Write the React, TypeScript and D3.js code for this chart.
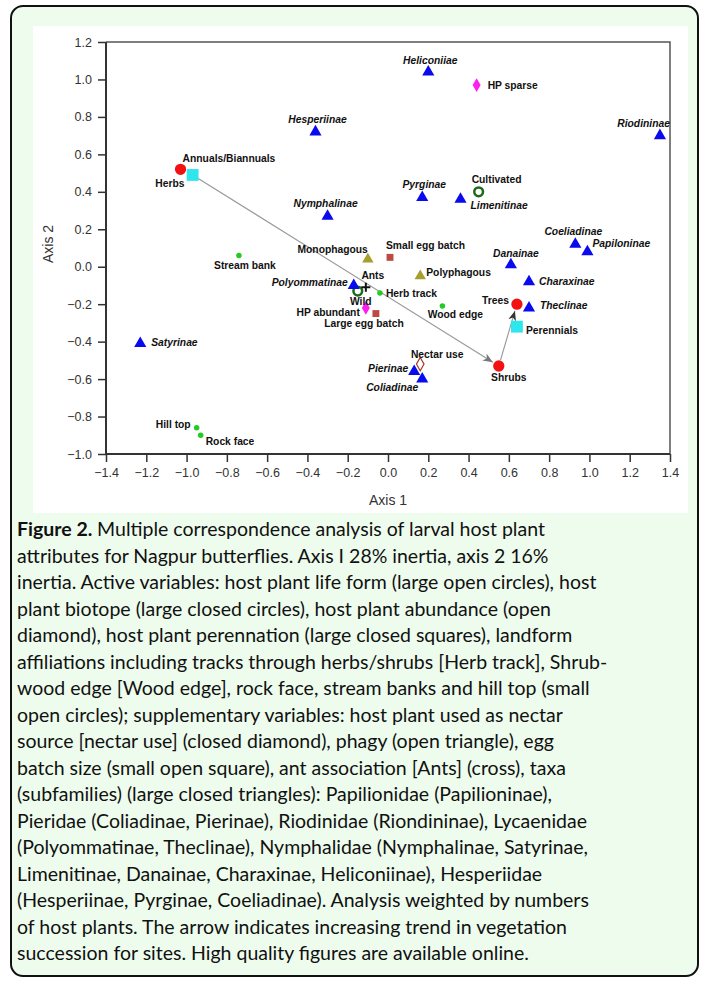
import { useRef, useEffect } from "react";
import * as d3 from "d3";

type Pt = { name: string; x: number; y: number };

const xTicks = [-1.4, -1.2, -1.0, -0.8, -0.6, -0.4, -0.2, 0.0, 0.2, 0.4, 0.6, 0.8, 1.0, 1.2, 1.4];
const yTicks = [-1.0, -0.8, -0.6, -0.4, -0.2, 0.0, 0.2, 0.4, 0.6, 0.8, 1.0, 1.2];

// taxa (subfamilies) - large closed triangles
const taxa: Pt[] = [
  { name: "Hesperiinae", x: -0.36, y: 0.72 },
  { name: "Heliconiiae", x: 0.2, y: 1.04 },
  { name: "Riodininae", x: 1.35, y: 0.7 },
  { name: "Nymphalinae", x: -0.3, y: 0.27 },
  { name: "Pyrginae", x: 0.17, y: 0.37 },
  { name: "Limenitinae", x: 0.36, y: 0.36 },
  { name: "Coeliadinae", x: 0.93, y: 0.12 },
  { name: "Papiloninae", x: 0.99, y: 0.08 },
  { name: "Danainae", x: 0.61, y: 0.01 },
  { name: "Charaxinae", x: 0.7, y: -0.08 },
  { name: "Polyommatinae", x: -0.17, y: -0.1 },
  { name: "Theclinae", x: 0.7, y: -0.22 },
  { name: "Pierinae", x: 0.13, y: -0.56 },
  { name: "Coliadinae", x: 0.17, y: -0.6 },
  { name: "Satyrinae", x: -1.23, y: -0.41 },
];

// host plant life form - red circles
const lifeForm: Pt[] = [
  { name: "Herbs", x: -1.03, y: 0.52 },
  { name: "Shrubs", x: 0.55, y: -0.53 },
  { name: "Trees", x: 0.64, y: -0.2 },
];

// perennation - cyan squares
const perennation: Pt[] = [
  { name: "Annuals/Biannuals", x: -0.97, y: 0.49 },
  { name: "Perennials", x: 0.64, y: -0.32 },
];

// biotope - open dark green circles
const biotope: Pt[] = [
  { name: "Cultivated", x: 0.45, y: 0.4 },
  { name: "Wild", x: -0.15, y: -0.13 },
];

// abundance - magenta diamonds
const abundance: Pt[] = [
  { name: "HP sparse", x: 0.44, y: 0.97 },
  { name: "HP abundant", x: -0.11, y: -0.22 },
];

// landform - small green dots
const landform: Pt[] = [
  { name: "Stream bank", x: -0.74, y: 0.06 },
  { name: "Herb track", x: -0.04, y: -0.14 },
  { name: "Wood edge", x: 0.27, y: -0.21 },
  { name: "Hill top", x: -0.95, y: -0.86 },
  { name: "Rock face", x: -0.93, y: -0.9 },
];

const phagy: Pt[] = [
  { name: "Monophagous", x: -0.1, y: 0.04 },
  { name: "Polyphagous", x: 0.16, y: -0.05 },
];

const eggBatch: Pt[] = [
  { name: "Small egg batch", x: 0.01, y: 0.05 },
  { name: "Large egg batch", x: -0.06, y: -0.25 },
];

const nectar: Pt[] = [{ name: "Nectar use", x: 0.16, y: -0.52 }];
const ants: Pt[] = [{ name: "Ants", x: -0.11, y: -0.11 }];

// vegetation succession arrow
const succession = ["Annuals/Biannuals", "Shrubs", "Trees"];

// label placement: [dx, dy, anchor] in px relative to the marker
const labelPos: Record<string, [number, number, string]> = {
  Hesperiinae: [2, -13, "middle"],
  Heliconiiae: [2, -12, "middle"],
  Riodininae: [10, -12, "end"],
  Nymphalinae: [-2, -13, "middle"],
  Pyrginae: [2, -13, "middle"],
  Limenitinae: [10, 6, "start"],
  Coeliadinae: [-2, -13, "middle"],
  Papiloninae: [5, -8, "start"],
  Danainae: [5, -12, "middle"],
  Charaxinae: [10, 0, "start"],
  Polyommatinae: [-6, -3, "end"],
  Theclinae: [11, -3, "start"],
  Pierinae: [-6, -3, "end"],
  Coliadinae: [-4, 8, "end"],
  Satyrinae: [11, -1, "start"],
  Herbs: [4, 14, "end"],
  Shrubs: [10, 11, "middle"],
  Trees: [-8, -4, "end"],
  "Annuals/Biannuals": [-10, -17, "start"],
  Perennials: [9, 4, "start"],
  Cultivated: [-7, -13, "start"],
  Wild: [3, 10, "middle"],
  "HP sparse": [11, 0, "start"],
  "HP abundant": [-6, 4, "end"],
  "Stream bank": [6, 10, "middle"],
  "Herb track": [6, 0, "start"],
  "Wood edge": [13, 8, "middle"],
  "Hill top": [-6, -3, "end"],
  "Rock face": [5, 6, "start"],
  Monophagous: [0, -10, "end"],
  Polyphagous: [6, -4, "start"],
  "Small egg batch": [-4, -12, "start"],
  "Large egg batch": [-12, 10, "middle"],
  "Nectar use": [17, -10, "middle"],
  Ants: [7, -12, "middle"],
};

const captionLines = [
  "Multiple correspondence analysis of larval host plant",
  "attributes for Nagpur butterflies. Axis I 28% inertia, axis 2 16%",
  "inertia. Active variables: host plant life form (large open circles), host",
  "plant biotope (large closed circles), host plant abundance (open",
  "diamond), host plant perennation (large closed squares), landform",
  "affiliations including tracks through herbs/shrubs [Herb track], Shrub-",
  "wood edge [Wood edge], rock face, stream banks and hill top (small",
  "open circles); supplementary variables: host plant used as nectar",
  "source [nectar use] (closed diamond), phagy (open triangle), egg",
  "batch size (small open square), ant association [Ants] (cross), taxa",
  "(subfamilies) (large closed triangles): Papilionidae (Papilioninae),",
  "Pieridae (Coliadinae, Pierinae), Riodinidae (Riondininae), Lycaenidae",
  "(Polyommatinae, Theclinae), Nymphalidae (Nymphalinae, Satyrinae,",
  "Limenitinae, Danainae, Charaxinae, Heliconiinae), Hesperiidae",
  "(Hesperiinae, Pyrginae, Coeliadinae). Analysis weighted by numbers",
  "of host plants. The arrow indicates increasing trend in vegetation",
  "succession for sites. High quality figures are available online.",
];

const W = 707;
const H = 982;
const FONT = "Arial, 'Liberation Sans', sans-serif";

export default function App() {
  const svgRef = useRef<SVGSVGElement>(null);

  useEffect(() => {
    if (!svgRef.current) return;
    const svg = d3.select(svgRef.current);
    svg.selectAll("*").remove();

    // panel backgrounds
    svg.append("rect")
      .attr("x", 11).attr("y", 6).attr("width", 687).attr("height", 970)
      .attr("rx", 12).attr("fill", "#EEFCEE").attr("stroke", "#111").attr("stroke-width", 2);
    svg.append("rect")
      .attr("x", 33).attr("y", 26).attr("width", 655).attr("height", 487)
      .attr("fill", "#fff");

    const x = d3.scaleLinear().domain([-1.4, 1.4]).range([106, 670]);
    const y = d3.scaleLinear().domain([-1.0, 1.2]).range([454, 42]);

    // frame top/right
    svg.append("path")
      .attr("d", `M${x(-1.4)},${y(1.2)}H${x(1.4)}V${y(-1.0)}`)
      .attr("fill", "none").attr("stroke", "#555").attr("stroke-width", 1.5);

    // axes
    const gx = svg.append("g").attr("transform", `translate(0,${y(-1.0)})`)
      .call(d3.axisBottom(x).tickValues(xTicks).tickSize(8).tickPadding(6).tickFormat(d3.format(".1f")));
    const gy = svg.append("g").attr("transform", `translate(${x(-1.4)},0)`)
      .call(d3.axisLeft(y).tickValues(yTicks).tickSize(8).tickPadding(6).tickFormat(d3.format(".1f")));
    [gx, gy].forEach((g) => {
      g.select(".domain").attr("stroke", "#333").attr("stroke-width", 2);
      g.selectAll(".tick line").attr("stroke", "#333").attr("stroke-width", 1.5);
      g.selectAll("text").style("font-family", FONT).style("font-size", "12.5px").attr("fill", "#333");
    });
    gx.select(".domain").attr("d", `M${x(-1.4)},0H${x(1.4)}`);
    gy.select(".domain").attr("d", `M0,${y(-1.0)}V${y(1.2)}`);

    svg.append("text")
      .attr("x", (x(-1.4) + x(1.4)) / 2).attr("y", 505)
      .attr("text-anchor", "middle").style("font-family", FONT).style("font-size", "14px")
      .attr("fill", "#333").text("Axis 1");
    svg.append("text")
      .attr("transform", `translate(53,${(y(-1.0) + y(1.2)) / 2 - 4}) rotate(-90)`)
      .attr("text-anchor", "middle").style("font-family", FONT).style("font-size", "14px")
      .attr("fill", "#333").text("Axis 2");

    // succession arrows
    const all = [...taxa, ...lifeForm, ...perennation, ...biotope, ...abundance, ...landform, ...phagy, ...eggBatch, ...nectar, ...ants];
    const find = (n: string) => all.find((p) => p.name === n)!;
    const defs = svg.append("defs");
    [["arrGray", "#777"], ["arrDark", "#333"]].forEach(([id, c]) => {
      defs.append("marker").attr("id", id).attr("viewBox", "0 0 10 10")
        .attr("refX", 10).attr("refY", 5).attr("markerWidth", 10).attr("markerHeight", 10)
        .attr("markerUnits", "userSpaceOnUse").attr("orient", "auto")
        .append("path").attr("d", "M0,1L10,5L0,9L3,5Z").attr("fill", c);
    });
    for (let i = 0; i < succession.length - 1; i++) {
      const a = find(succession[i]);
      const b = find(succession[i + 1]);
      const x1 = x(a.x), y1 = y(a.y), x2 = x(b.x), y2 = y(b.y);
      const len = Math.hypot(x2 - x1, y2 - y1);
      const ux = (x2 - x1) / len, uy = (y2 - y1) / len;
      const s0 = i === 0 ? 0 : 6, s1 = 7;
      svg.append("line")
        .attr("x1", x1 + ux * s0).attr("y1", y1 + uy * s0)
        .attr("x2", x2 - ux * s1).attr("y2", y2 - uy * s1)
        .attr("stroke", "#999").attr("stroke-width", 1.1)
        .attr("marker-end", `url(#${i === 0 ? "arrGray" : "arrDark"})`);
    }

    const sym = (type: d3.SymbolType, size: number) => d3.symbol().type(type).size(size)()!;
    const drawSymbols = (pts: Pt[], d: string, fill: string, stroke = "none", sw = 0) => {
      svg.append("g").selectAll("path").data(pts).join("path")
        .attr("transform", (p) => `translate(${x(p.x)},${y(p.y)})`)
        .attr("d", d).attr("fill", fill).attr("stroke", stroke).attr("stroke-width", sw);
    };

    drawSymbols(lifeForm, sym(d3.symbolCircle, 100), "#F21010");
    drawSymbols(perennation, sym(d3.symbolSquare, 140), "#2EE6EE");
    drawSymbols(biotope, sym(d3.symbolCircle, 60), "none", "#1A6A1A", 2.5);
    drawSymbols(abundance, sym(d3.symbolDiamond, 55), "#FF20F0");
    drawSymbols(landform, sym(d3.symbolCircle, 24), "#22CC22");
    drawSymbols(phagy, sym(d3.symbolTriangle, 56), "#A89E2E");
    drawSymbols(eggBatch, sym(d3.symbolSquare, 48), "#BE4A44");
    drawSymbols(nectar, sym(d3.symbolDiamond, 50), "#fff", "#A83A28", 1.2);
    drawSymbols(taxa, sym(d3.symbolTriangle, 64), "#0A0AEE");
    svg.append("g").selectAll("path").data(ants).join("path")
      .attr("transform", (p) => `translate(${x(p.x)},${y(p.y)})`)
      .attr("d", "M-4.5,0H4.5M0,-4.5V4.5").attr("stroke", "#111").attr("stroke-width", 2);

    // labels
    const italicSet = new Set(taxa.map((t) => t.name));
    svg.append("g").selectAll("text").data(all).join("text")
      .attr("x", (p) => x(p.x) + labelPos[p.name][0])
      .attr("y", (p) => y(p.y) + labelPos[p.name][1])
      .attr("dy", "0.36em")
      .attr("text-anchor", (p) => labelPos[p.name][2])
      .style("font-family", FONT).style("font-size", "10.3px").style("font-weight", "bold")
      .style("font-style", (p) => (italicSet.has(p.name) ? "italic" : "normal"))
      .attr("fill", "#111")
      .text((p) => p.name);

    // caption
    const cap = svg.append("g").style("font-family", "Lato, 'Open Sans', sans-serif").style("font-size", "19.5px").attr("fill", "#111");
    captionLines.forEach((line, i) => {
      const t = cap.append("text").attr("x", 17).attr("y", 536 + i * 26.5);
      if (i === 0) {
        t.append("tspan").style("font-weight", "bold").text("Figure 2. ");
      }
      t.append("tspan").text(line);
    });
  }, []);

  return (
    <svg ref={svgRef} width={W} height={H} style={{ position: "absolute", left: 0, top: 0, background: "#fff" }} />
  );
}
